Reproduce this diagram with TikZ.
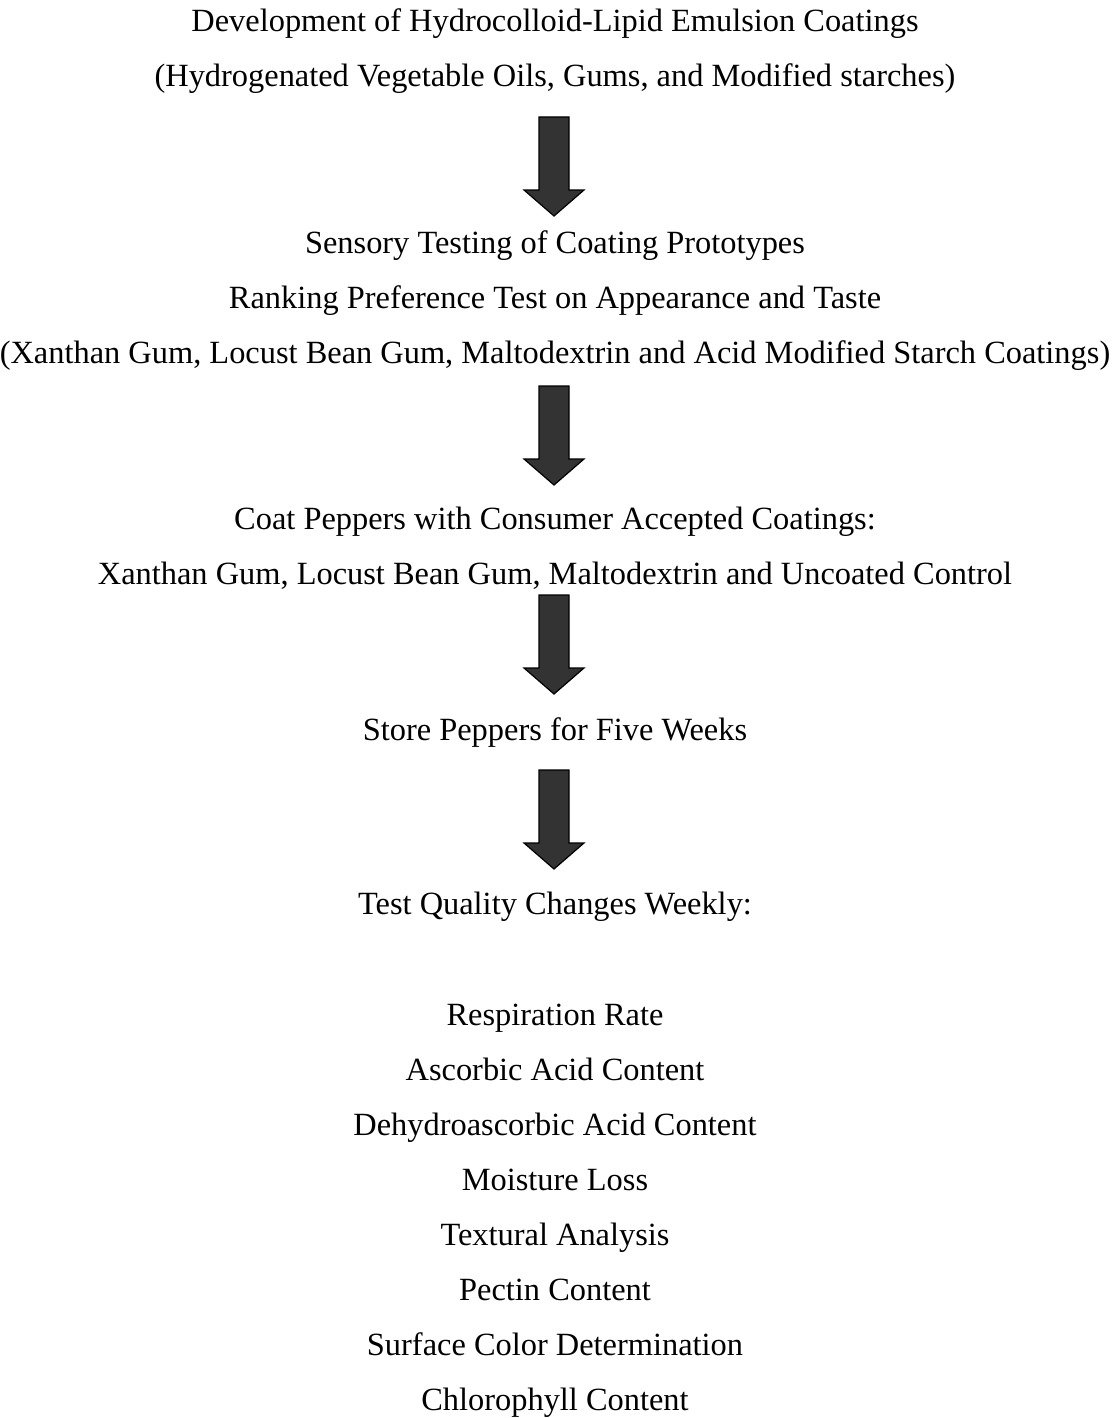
\documentclass[tikz,border=0pt]{standalone}
\usepackage{fontspec}
\setmainfont{Liberation Serif}
\usepackage{tikz}

\begin{document}
\begin{tikzpicture}[x=0.5pt,y=-0.5pt,
    line/.style = {anchor=base, inner sep=0pt, font=\fontsize{16.2}{20}\selectfont},
    blockarrow/.style = {draw=black, line width=0.6pt, fill=black!80}]
        \useasboundingbox (0,0) rectangle (1114,1418);

        \node[line](dev) at (555,32){Development of Hydrocolloid-Lipid Emulsion Coatings};
        \node[line](devsub) at (555,87){(Hydrogenated Vegetable Oils, Gums, and Modified starches)};

        \node[line](sens) at (555,253){Sensory Testing of Coating Prototypes};
        \node[line](rank) at (555,308){Ranking Preference Test on Appearance and Taste};
        \node[line](proto) at (555,363){(Xanthan Gum, Locust Bean Gum, Maltodextrin and Acid Modified Starch Coatings)};

        \node[line](coat) at (555,529){Coat Peppers with Consumer Accepted Coatings:};
        \node[line](coatlist) at (555,584){Xanthan Gum, Locust Bean Gum, Maltodextrin and Uncoated Control};

        \node[line](store) at (555,740){Store Peppers for Five Weeks};

        \node[line](test) at (555,914){Test Quality Changes Weekly:};

        \node[line](resp) at (555,1025){Respiration Rate};
        \node[line](asc) at (555,1080){Ascorbic Acid Content};
        \node[line](dha) at (555,1135){Dehydroascorbic Acid Content};
        \node[line](moist) at (555,1190){Moisture Loss};
        \node[line](textur) at (555,1245){Textural Analysis};
        \node[line](pect) at (555,1300){Pectin Content};
        \node[line](color) at (555,1355){Surface Color Determination};
        \node[line](chl) at (555,1410){Chlorophyll Content};

        % block arrows between the steps
        \foreach \t in {117,386,595,770}
          \draw[blockarrow] (539,\t) -- (569,\t) -- (569,\t+73) -- (584,\t+73)
            -- (554,\t+99) -- (524,\t+73) -- (539,\t+73) -- cycle;
      \end{tikzpicture}
\end{document}
